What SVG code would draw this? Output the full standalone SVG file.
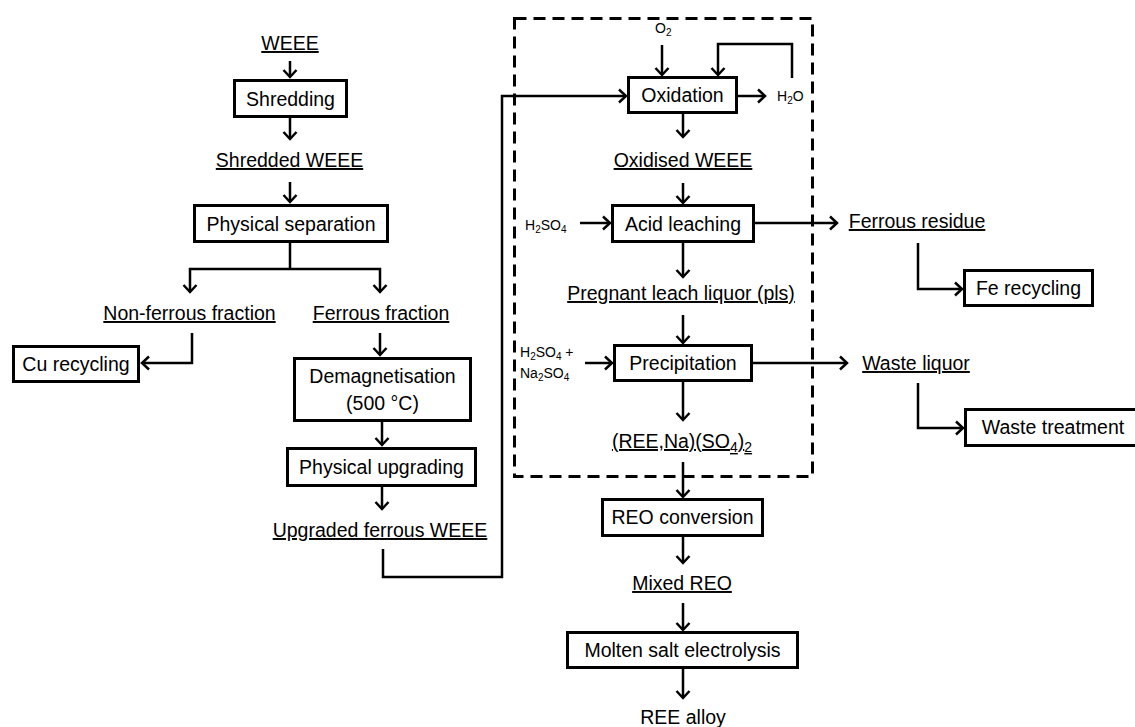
<svg xmlns="http://www.w3.org/2000/svg" width="1135" height="727" viewBox="0 0 1135 727">
<style>
text{font-family:"Liberation Sans",Arial,sans-serif;font-size:19.5px;fill:#000;text-anchor:middle}
.u{text-decoration:underline}
.s{font-size:14px;text-anchor:start}
.sub{font-size:10px}
.box{fill:#fff;stroke:#000;stroke-width:3}
.c{fill:none;stroke:#000;stroke-width:2.5}
.a{marker-end:url(#ah)}
</style>
<defs>
<marker id="ah" markerUnits="userSpaceOnUse" viewBox="-10 -8 12 16" refX="0" refY="0" markerWidth="12" markerHeight="16" orient="auto">
<path d="M-7,-6.5 L0,0 L-7,6.5" fill="none" stroke="#000" stroke-width="2.5"/>
</marker>
</defs>
<rect id="boundary" x="514.5" y="18.5" width="298" height="458" fill="none" stroke="#000" stroke-width="3" stroke-dasharray="12 7"/>
<g id="connectors">
<path class="c a" d="M290,61 V77"/>
<path class="c a" d="M290,118 V139"/>
<path class="c a" d="M290,182 V202"/>
<path class="c" d="M290,243 V269"/>
<path class="c a" d="M290,269 H190 V292"/>
<path class="c a" d="M290,269 H380 V292"/>
<path class="c a" d="M192,333 V363 H142"/>
<path class="c a" d="M380,333 V355"/>
<path class="c a" d="M382,422 V445"/>
<path class="c a" d="M382,487 V509"/>
<path class="c a" d="M383,549 V577 H502 V96 H626"/>
<path class="c a" d="M662,45 V75"/>
<path class="c a" d="M792,78 V44 H718 V75"/>
<path class="c a" d="M738,96 H765"/>
<path class="c a" d="M683,114 V137"/>
<path class="c a" d="M683,183 V203"/>
<path class="c a" d="M580,223 H610"/>
<path class="c a" d="M755,223 H837"/>
<path class="c a" d="M918,243 V289 H962"/>
<path class="c a" d="M683,243 V277"/>
<path class="c a" d="M683,315 V343"/>
<path class="c a" d="M585,363 H612"/>
<path class="c a" d="M753,363 H847"/>
<path class="c a" d="M918,383 V428 H963"/>
<path class="c a" d="M683,382 V420"/>
<path class="c a" d="M683,462 V497"/>
<path class="c a" d="M683,537 V563"/>
<path class="c a" d="M683,603 V630"/>
<path class="c a" d="M683,669 V698"/>
</g>
<g id="weee"><text class="u" x="290" y="50">WEEE</text></g>
<g id="shredding"><rect class="box" x="234.5" y="80.5" width="112" height="36"/><text x="290.5" y="106">Shredding</text></g>
<g id="shredded"><text class="u" x="289.5" y="167">Shredded WEEE</text></g>
<g id="physsep"><rect class="box" x="194.5" y="205.5" width="193" height="36"/><text x="291" y="231">Physical separation</text></g>
<g id="nonferrous"><text class="u" x="189.5" y="320">Non-ferrous fraction</text></g>
<g id="ferrous"><text class="u" x="381" y="320">Ferrous fraction</text></g>
<g id="cu"><rect class="box" x="13.5" y="346.5" width="125" height="35"/><text x="76" y="371">Cu recycling</text></g>
<g id="demag"><rect class="box" x="294.5" y="358.5" width="176" height="62"/><text x="382.5" y="383">Demagnetisation</text><text x="382.5" y="410">(500 °C)</text></g>
<g id="physup"><rect class="box" x="287.5" y="448.5" width="188" height="37"/><text x="381.5" y="474">Physical upgrading</text></g>
<g id="upgraded"><text class="u" x="380" y="537">Upgraded ferrous WEEE</text></g>
<g id="o2"><text class="s" x="655" y="33">O<tspan class="sub" baseline-shift="-3">2</tspan></text></g>
<g id="oxidation"><rect class="box" x="628.5" y="77.5" width="108" height="35"/><text x="682.5" y="102">Oxidation</text></g>
<g id="h2o"><text class="s" x="777" y="101">H<tspan class="sub" baseline-shift="-3">2</tspan>O</text></g>
<g id="oxidised"><text class="u" x="683" y="167">Oxidised WEEE</text></g>
<g id="h2so4a"><text class="s" x="525" y="230">H<tspan class="sub" baseline-shift="-3">2</tspan>SO<tspan class="sub" baseline-shift="-3">4</tspan></text></g>
<g id="acid"><rect class="box" x="612.5" y="205.5" width="141" height="36"/><text x="683" y="231">Acid leaching</text></g>
<g id="ferresidue"><text class="u" x="917" y="228">Ferrous residue</text></g>
<g id="fe"><rect class="box" x="964.5" y="270.5" width="128" height="35"/><text x="1028.5" y="295">Fe recycling</text></g>
<g id="pls"><text class="u" x="681" y="300">Pregnant leach liquor (pls)</text></g>
<g id="h2so4b"><text class="s" x="520" y="357">H<tspan class="sub" baseline-shift="-3">2</tspan>SO<tspan class="sub" baseline-shift="-3">4</tspan> +</text><text class="s" x="520" y="378">Na<tspan class="sub" baseline-shift="-3">2</tspan>SO<tspan class="sub" baseline-shift="-3">4</tspan></text></g>
<g id="precip"><rect class="box" x="614.5" y="345.5" width="137" height="35"/><text x="683" y="370">Precipitation</text></g>
<g id="wasteliq"><text class="u" x="916" y="370">Waste liquor</text></g>
<g id="wastetreat"><rect class="box" x="965.5" y="409.5" width="172" height="36"/><text x="1053" y="434">Waste treatment</text></g>
<g id="reena"><text class="u" x="682" y="448">(REE,Na)(SO<tspan font-size="14" baseline-shift="-4">4</tspan>)<tspan font-size="14" baseline-shift="-4">2</tspan></text></g>
<g id="reo"><rect class="box" x="602.5" y="499.5" width="160" height="36"/><text x="682.5" y="524">REO conversion</text></g>
<g id="mixed"><text class="u" x="682" y="590">Mixed REO</text></g>
<g id="molten"><rect class="box" x="567.5" y="632.5" width="230" height="35"/><text x="682.5" y="657">Molten salt electrolysis</text></g>
<g id="alloy"><text x="683" y="724">REE alloy</text></g>
</svg>
